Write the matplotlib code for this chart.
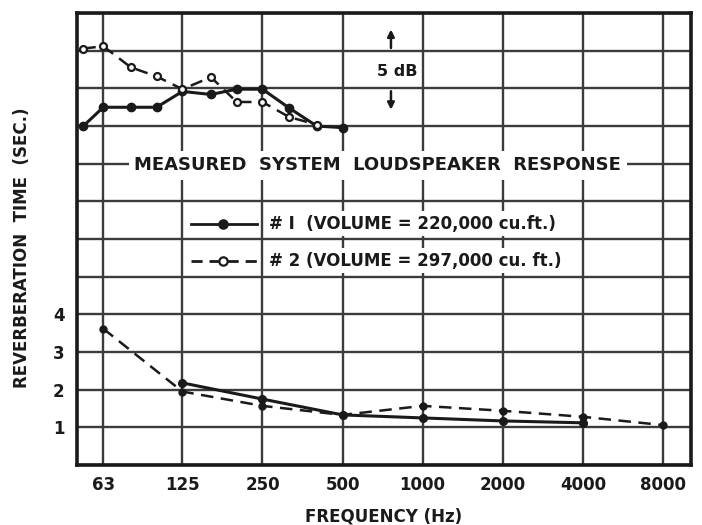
import matplotlib
matplotlib.use("Agg")
import matplotlib.pyplot as plt

# ---------------- data ----------------
# reverberation time (sec) at octave-band centres
freq_ticks = [63, 125, 250, 500, 1000, 2000, 4000, 8000]
tick_labels = ['63', '125', '250', '500', '1000', '2000', '4000', '8000']

rt1_freq = [125, 250, 500, 1000, 2000, 4000]
rt1 = [2.18, 1.75, 1.33, 1.25, 1.17, 1.12]
rt2_freq = [63, 125, 250, 500, 1000, 2000, 4000, 8000]
rt2 = [3.62, 1.95, 1.57, 1.33, 1.57, 1.44, 1.28, 1.06]

# loudspeaker response (relative dB), 1/3-octave points
resp_freq = [53, 63, 80, 100, 125, 160, 200, 250, 315, 400, 500]
resp1_db = [-5.0, -2.5, -2.5, -2.5, -0.4, -0.8, -0.1, -0.1, -2.6, -5.0, -5.2]
resp2_freq = [53, 63, 80, 100, 125, 160, 200, 250, 315, 400]
resp2_db = [5.3, 5.6, 2.8, 1.6, -0.1, 1.5, -1.8, -1.8, -3.8, -4.8]

label1 = '# I  (VOLUME = 220,000 cu.ft.)'
label2 = '# 2 (VOLUME = 297,000 cu. ft.)'
##########################################

ink = '#1a1a1a'
grid_c = '#3c3c3c'
fs = 12

fig = plt.figure(figsize=(7.02, 5.25), dpi=100)
ax = fig.add_axes([0.1097, 0.1143, 0.8746, 0.8607])

ax.set_xscale('log', base=2)
ax.set_xlim(50.2, 10200)
ax.set_ylim(0, 12)

ax.set_xticks(freq_ticks)
ax.set_xticklabels(tick_labels, fontsize=fs, fontweight='bold', color=ink)
ax.xaxis.set_minor_locator(matplotlib.ticker.NullLocator())
ax.set_yticks(range(0, 13))
ax.set_yticklabels(['' if not 1 <= v <= 4 else str(v) for v in range(0, 13)],
                   fontsize=fs, fontweight='bold', color=ink)
ax.tick_params(length=0)
ax.tick_params(axis='x', pad=8)
ax.tick_params(axis='y', pad=9)
ax.grid(True, color=grid_c, linewidth=1.7)
ax.set_axisbelow(True)
for s in ax.spines.values():
    s.set_linewidth(2.6)
    s.set_color(ink)

# reverberation curves
ax.plot(rt1_freq, rt1, '-', color=ink, lw=2.2, marker='o', ms=5.5, zorder=3)
ax.plot(rt2_freq, rt2, '--', color=ink, lw=1.8, dashes=(5, 3), marker='o', ms=5, zorder=3)

# loudspeaker response on its own dB scale (5 dB per grid division)
axdb = ax.twinx()
axdb.set_ylim(-50, 10)
axdb.set_yticks([])
for s in axdb.spines.values():
    s.set_visible(False)
axdb.plot(resp_freq, resp1_db, '-', color=ink, lw=2.2, marker='o', ms=6, zorder=3)
axdb.plot(resp2_freq, resp2_db, '--', color=ink, lw=1.8, dashes=(5, 3), marker='o',
          ms=5, mfc='white', mec=ink, mew=1.6, zorder=3)

# 5 dB scale marker
axdb.annotate('', xy=(760, 8.2), xytext=(760, 5.0),
              arrowprops=dict(arrowstyle='-|>', color=ink, lw=1.8, mutation_scale=10))
axdb.annotate('', xy=(760, -3.2), xytext=(760, 0.0),
              arrowprops=dict(arrowstyle='-|>', color=ink, lw=1.8, mutation_scale=10))
axdb.text(800, 2.3, '5 dB', ha='center', va='center', fontsize=11.5, fontweight='bold',
          color=ink, bbox=dict(fc='white', ec='none', pad=1))

ax.text(0.49, 0.663, 'MEASURED  SYSTEM  LOUDSPEAKER  RESPONSE', transform=ax.transAxes,
        ha='center', va='center', fontsize=13, fontweight='bold', color=ink,
        bbox=dict(fc='white', ec='none', pad=4))

# legend drawn by hand
for yy, ls, mfc, lab in [(0.534, '-', ink, label1), (0.452, '--', 'white', label2)]:
    ax.plot([0.185, 0.293], [yy, yy], ls, transform=ax.transAxes, color=ink, lw=2,
            dashes=(4, 2.5) if ls == '--' else (None, None))
    ax.plot([0.237], [yy], 'o', transform=ax.transAxes, color=ink, ms=6, mfc=mfc, mew=1.6)
    ax.text(0.313, yy, lab, transform=ax.transAxes, ha='left', va='center',
            fontsize=fs, fontweight='bold', color=ink,
            bbox=dict(fc='white', ec='none', pad=2.5))

ax.set_xlabel('FREQUENCY (Hz)', fontsize=12, fontweight='bold', color=ink)
ax.xaxis.set_label_coords(0.5, -0.115)
ax.xaxis.label.set_va('center')
ax.set_ylabel('REVERBERATION  TIME  (SEC.)', fontsize=12, fontweight='bold', color=ink)
ax.yaxis.set_label_coords(-0.09, 0.48)
ax.yaxis.label.set_va('center')

plt.savefig('out.png', dpi=100)
